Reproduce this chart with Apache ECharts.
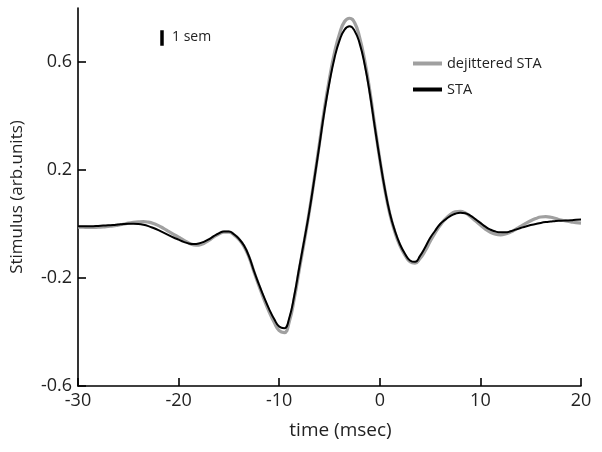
<!DOCTYPE html>
<html>
<head>
<meta charset="utf-8">
<script src="https://cdn.jsdelivr.net/npm/echarts@6/dist/echarts.min.js"></script>
<style>
html,body{margin:0;padding:0;background:#fff;}
#chart{width:602px;height:452px;}
</style>
</head>
<body>
<div id="chart"></div>
<script>
var timeMs = [-30,-29.5,-29,-28.5,-28,-27.5,-27,-26.5,-26,-25.5,-25,-24.5,-24,-23.5,-23,-22.5,-22,-21.5,-21,-20.5,
-20,-19.5,-19,-18.5,-18,-17.5,-17,-16.5,-16,-15.5,-15,-14.5,-14,-13.5,-13,-12.5,-12,-11.5,-11,-10.5,
-10,-9.5,-9,-8.5,-8,-7.5,-7,-6.5,-6,-5.5,-5,-4.5,-4,-3.5,-3,-2.5,-2,-1.5,-1,-0.5,
0,0.5,1,1.5,2,2.5,3,3.5,4,4.5,5,5.5,6,6.5,7,7.5,8,8.5,9,9.5,
10,10.5,11,11.5,12,12.5,13,13.5,14,14.5,15,15.5,16,16.5,17,17.5,18,18.5,19,19.5,20];

var staValues = [-0.008,-0.008,-0.008,-0.008,-0.007,-0.006,-0.005,-0.004,-0.002,0.0,0.001,0.001,0.0,-0.003,-0.008,-0.015,-0.023,-0.032,-0.041,-0.05,
-0.058,-0.066,-0.072,-0.074,-0.072,-0.066,-0.057,-0.045,-0.035,-0.028,-0.028,-0.038,-0.055,-0.08,-0.12,-0.175,-0.225,-0.272,-0.315,-0.352,
-0.38,-0.386,-0.348,-0.265,-0.16,-0.058,0.048,0.168,0.292,0.418,0.525,0.615,0.68,0.72,0.732,0.715,0.668,0.59,0.485,0.36,
0.24,0.13,0.04,-0.025,-0.075,-0.11,-0.135,-0.14,-0.118,-0.087,-0.052,-0.025,0.0,0.016,0.029,0.038,0.042,0.04,0.031,0.018,
0.004,-0.01,-0.021,-0.028,-0.031,-0.031,-0.027,-0.021,-0.015,-0.009,-0.004,0.0,0.004,0.007,0.009,0.011,0.012,0.013,0.014,0.016,0.017];

var dejitteredValues = [-0.012,-0.012,-0.013,-0.013,-0.012,-0.011,-0.009,-0.007,-0.004,-0.001,0.003,0.006,0.008,0.009,0.007,0.002,-0.006,-0.016,-0.027,-0.038,
-0.049,-0.06,-0.07,-0.077,-0.078,-0.072,-0.061,-0.048,-0.037,-0.03,-0.03,-0.04,-0.057,-0.083,-0.123,-0.178,-0.23,-0.28,-0.325,-0.364,
-0.395,-0.402,-0.362,-0.276,-0.168,-0.063,0.048,0.17,0.298,0.428,0.54,0.635,0.705,0.75,0.762,0.745,0.69,0.605,0.495,0.365,
0.24,0.128,0.037,-0.03,-0.08,-0.115,-0.14,-0.145,-0.128,-0.1,-0.065,-0.033,-0.005,0.018,0.035,0.045,0.047,0.041,0.028,0.012,
-0.004,-0.019,-0.031,-0.038,-0.04,-0.037,-0.03,-0.02,-0.009,0.002,0.012,0.02,0.026,0.027,0.025,0.02,0.015,0.011,0.008,0.005,0.003];

var xTicks = [-30,-20,-10,0,10,20];
var yTicks = [-0.6,-0.2,0.2,0.6];
var semBarX = [-21.65,-21.65];
var semBarY = [0.66,0.718];

function pairs(xs, ys){ var out=[]; for(var i=0;i<xs.length;i++){ out.push([xs[i], ys[i]]); } return out; }

var FONT = '"Open Sans", "Noto Sans", sans-serif';
var chart = echarts.init(document.getElementById('chart'), null, {renderer:'canvas'});
chart.setOption({
  animation:false,
  backgroundColor:'#fff',
  grid:{left:78, right:21, top:8, bottom:66, containLabel:false},
  legend:{
    orient:'vertical', left:413, top:56, padding:0,
    data:['dejittered STA','STA'],
    icon:'rect', itemWidth:29, itemHeight:4, itemGap:11,
    textStyle:{fontFamily:FONT, fontSize:14.5, color:'#222', lineHeight:14}
  },
  xAxis:{
    type:'value', min:-30, max:20, interval:10,
    name:'time (msec)', nameLocation:'middle', nameGap:35,
    nameTextStyle:{fontFamily:FONT, fontSize:19, color:'#222', padding:[0,0,0,22]},
    axisLine:{onZero:false, lineStyle:{color:'#000', width:1.6}},
    axisTick:{inside:true, length:8, lineStyle:{color:'#000', width:1.6}, customValues:xTicks},
    axisLabel:{fontFamily:FONT, fontSize:18, color:'#222', margin:6, customValues:xTicks},
    splitLine:{show:false}
  },
  yAxis:{
    type:'value', min:-0.6, max:0.8,
    name:'Stimulus (arb.units)', nameLocation:'middle', nameGap:52, nameRotate:90,
    nameTextStyle:{fontFamily:FONT, fontSize:17, color:'#222'},
    axisLine:{onZero:false, lineStyle:{color:'#000', width:1.6}},
    axisTick:{inside:true, length:8, lineStyle:{color:'#000', width:1.6}, customValues:yTicks},
    axisLabel:{fontFamily:FONT, fontSize:18, color:'#222', margin:6, customValues:yTicks, formatter:function(v){return String(Math.round(v*10)/10);}},
    splitLine:{show:false}
  },
  series:[
    {name:'dejittered STA', type:'line', data:pairs(timeMs, dejitteredValues), showSymbol:false, smooth:0.5,
     color:'#a0a0a0', lineStyle:{color:'#a0a0a0', width:3.2}, z:2},
    {name:'STA', type:'line', data:pairs(timeMs, staValues), showSymbol:false, smooth:0.5,
     color:'#000', lineStyle:{color:'#000', width:2}, z:3},
    {name:'1 sem', type:'line', data:pairs(semBarX, semBarY), showSymbol:false,
     lineStyle:{color:'#000', width:3.5, cap:'butt'}, z:4, silent:true}
  ],
  graphic:[
    {type:'text', left:172, top:30, style:{text:'1 sem', font:'14px "Open Sans", sans-serif', fill:'#222'}}
  ]
});
</script>
</body>
</html>
